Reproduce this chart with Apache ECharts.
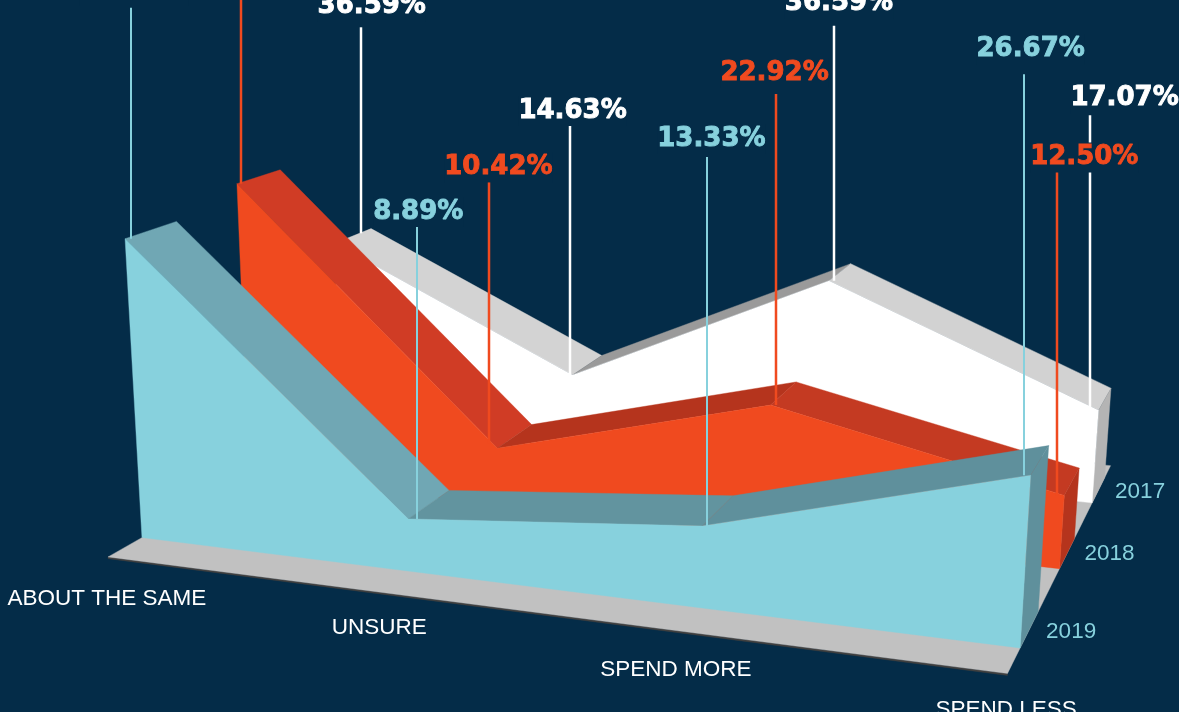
<!DOCTYPE html>
<html><head><meta charset="utf-8">
<style>html,body{margin:0;padding:0;background:#042c48}#c{width:1179px;height:712px}</style>
<script src="https://cdn.jsdelivr.net/npm/echarts@6/dist/echarts.min.js"></script>
</head><body><div id="c"></div>
<script>
// ---- data ----
const categories = ['ABOUT THE SAME', 'UNSURE', 'SPEND MORE', 'SPEND LESS'];
const years = ['2017', '2018', '2019'];
const values2017 = [36.59, 14.63, 36.59, 17.07];
const values2018 = [54.17, 10.42, 22.92, 12.50];
const values2019 = [51.11, 8.89, 13.33, 26.67];

// ---- camera: fitted perspective projection of (category, value, depth) ----
const cam = [0.250412,-0.004234,0.056372,0.141940, 0.009930,-0.060263,-0.007979,0.537584, -0.041482,-0.007466,0.039071];
function project(X, Y, Z) {
  const y = Y / 10, w = cam[8]*X + cam[9]*y + cam[10]*Z + 1;
  return [1000*(cam[0]*X + cam[1]*y + cam[2]*Z + cam[3])/w, 1000*(cam[4]*X + cam[5]*y + cam[6]*Z + cam[7])/w];
}
const YMAX = 100;
const depthFront = [4.6, 2.3, 0], depthThick = 1;
const floorZ = [-0.65, 6.1];

// ---- styles ----
const BG = '#042c48';
const faceColor = ['#ffffff', '#f04a1f', '#87d1dd'];
const leaderColor = ['#ffffff', '#f04a1f', '#87d1dd'];
const topColors = [['#d3d3d3','#9a9a9a','#d2d2d2'], ['#d03c25','#b5341d','#c43a22'], ['#70a7b4','#62949f','#5f909c']];
const sideColor = ['#b4b4b4', '#b5341d', '#5f909c'];
const labelFont = 'bold 26px "DejaVu Sans"';
const axisFont = '22.5px "Liberation Sans"';
// leader lines and value-labels offsets (screen px, relative to the projected vertex)
const leaderDx   = [[26,-3,5,-9],[4,-8,5,-7],[6,9,5,-7]];
const leaderLift = [[216,249,255,295],[230,266,311,325],[231,293,369,401]];
const leaderDrop = [[-10,0,0,-3],[0,-5,0,0],[0,0,0,0]];
const labelDx    = [[37,0,10,26],[3,1,4,20],[9,10,9,0]];
const labelLift  = [[237,264,277,312],[225,281,332,338],[248,307,387,426]];
const catLabelOff  = [[-35,61],[-30,57],[-25,62],[-14,62]];
const yearLabelOff = [[48,-11],[50,-15],[51,-16]];

const chart = echarts.init(document.getElementById('c'), null, {renderer:'canvas'});

function worldOf(api, cs, idx) {
  const c = api.coord([api.value(0, idx), api.value(1, idx)]);
  return [(c[0]-cs.x)/cs.width*(categories.length-1), (cs.y+cs.height-c[1])/cs.height*YMAX];
}
function poly(points, fill, z2) {
  return {type:'polygon', z2, shape:{points}, style:{fill, stroke:fill, lineWidth:0.4}, silent:true};
}
function renderYear(s) {
  return function (params, api) {
    const cs = params.coordSys, i = params.dataIndex, last = categories.length-1;
    const z0 = depthFront[s], z1 = z0 + depthThick, base = 10 + s*10;
    const [X, Y] = worldOf(api, cs, i);
    const kids = [];
    if (i < last) {
      const [X2, Y2] = worldOf(api, cs, i+1);
      kids.push(poly([project(X,Y,z0), project(X2,Y2,z0), project(X2,Y2,z1), project(X,Y,z1)], topColors[s][i], base+1));
    } else {
      kids.push(poly([project(X,Y,z0), project(X,Y,z1), project(X,0,z1), project(X,0,z0)], sideColor[s], base+2));
      const front = [];
      for (let k = 0; k <= last; k++) { const w = worldOf(api, cs, k); front.push(project(w[0], w[1], z0)); }
      front.push(project(last,0,z0), project(0,0,z0));
      kids.push(poly(front, faceColor[s], base+3));
    }
    const v = project(X, Y, z0);
    const lx = Math.round(v[0] + leaderDx[s][i]);
    kids.push({type:'line', z2:100, silent:true,
      shape:{x1:lx, y1:v[1]-leaderLift[s][i], x2:lx, y2:v[1]+leaderDrop[s][i]},
      style:{stroke:leaderColor[s], lineWidth: s===2 ? 2 : 2.5}});
    kids.push({type:'text', z2:110, silent:true, style:{
      text: api.value(1, i).toFixed(2)+'%', x:v[0]+labelDx[s][i], y:v[1]-labelLift[s][i],
      align:'center', verticalAlign:'middle', font:labelFont, fill:leaderColor[s],
      stroke:leaderColor[s], lineWidth:0.9,
      backgroundColor:BG, padding:[2,0]}});
    return {type:'group', children:kids};
  };
}
function renderFloor(params, api) {
  const last = categories.length-1, [zf, zb] = floorZ;
  return {type:'group', children:[
    poly([project(0,-0.3,zf), project(last,-0.3,zf), project(last,0,zf), project(0,0,zf)], '#3f3f3f', 1),
    poly([project(0,0,zf), project(last,0,zf), project(last,0,zb), project(0,0,zb)], '#c1c1c1', 2)
  ]};
}
function renderAxisLabels(params, api) {
  const kids = [];
  categories.forEach((t,i) => {
    const b = project(i,0,0);
    kids.push({type:'text', z2:120, silent:true, style:{text:t, x:b[0]+catLabelOff[i][0], y:b[1]+catLabelOff[i][1],
      align:'center', verticalAlign:'middle', font:axisFont, fill:'#ffffff'}});
  });
  years.forEach((t,s) => {
    const b = project(categories.length-1,0,depthFront[s]);
    kids.push({type:'text', z2:120, silent:true, style:{text:t, x:b[0]+yearLabelOff[s][0], y:b[1]+yearLabelOff[s][1],
      align:'center', verticalAlign:'middle', font:axisFont, fill:'#87d1dd'}});
  });
  return {type:'group', children:kids};
}
const seriesValues = [values2017, values2018, values2019];
chart.setOption({
  animation:false,
  backgroundColor:BG,
  grid:{left:0,right:0,top:0,bottom:0,containLabel:false},
  xAxis:{type:'category', data:categories, boundaryGap:false, show:false},
  yAxis:{type:'value', min:0, max:YMAX, show:false},
  series:[
    {type:'custom', name:'floor', coordinateSystem:'cartesian2d', silent:true, clip:false, renderItem:renderFloor, data:[[0,0]], z:1},
    ...years.map((y,s)=>({type:'custom', name:y, coordinateSystem:'cartesian2d', silent:true, clip:false, renderItem:renderYear(s),
      data:seriesValues[s].map((v,i)=>[i,v]), encode:{x:0,y:1}, z:2})),
    {type:'custom', name:'axis labels', coordinateSystem:'cartesian2d', silent:true, clip:false, renderItem:renderAxisLabels, data:[[0,0]], z:3}
  ]
});
</script></body></html>
